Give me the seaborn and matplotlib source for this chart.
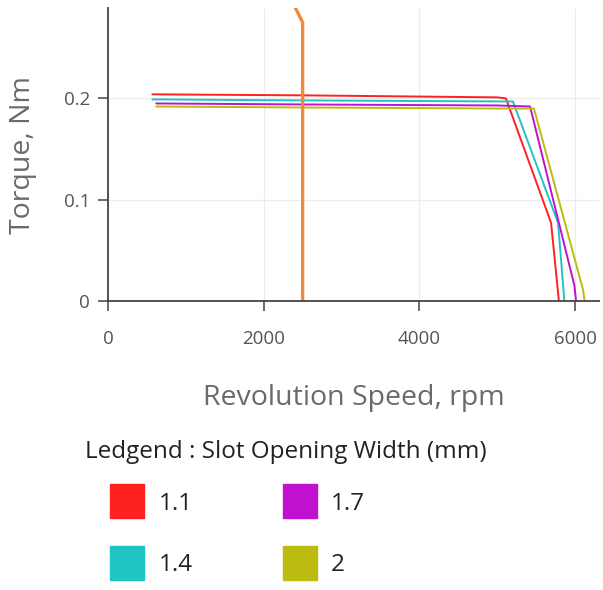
import matplotlib
matplotlib.use("Agg")
import matplotlib.pyplot as plt
import seaborn as sns
import pandas as pd
from matplotlib.lines import Line2D

# ---- data ----
widths = ["1.1", "1.4", "1.7", "2"]
colors = ["#ff2020", "#20c4c4", "#c010d0", "#bcbc10"]

speed_11 = [570, 2500, 5000, 5110, 5690, 5790]
torque_11 = [0.204, 0.203, 0.201, 0.200, 0.077, 0.0]
speed_14 = [570, 2500, 5000, 5200, 5780, 5860]
torque_14 = [0.199, 0.198, 0.197, 0.197, 0.077, 0.0]
speed_17 = [620, 2500, 5000, 5420, 5990, 6010]
torque_17 = [0.195, 0.194, 0.193, 0.192, 0.015, 0.0]
speed_20 = [620, 2500, 5000, 5470, 6100, 6120]
torque_20 = [0.192, 0.191, 0.190, 0.190, 0.011, 0.0]

load_speed = [2500, 2500, 2390]
load_torque = [0.0, 0.275, 0.292]

x_ticks = [0, 2000, 4000, 6000]
y_ticks = [0, 0.1, 0.2]
y_tick_labels = ["0", "0.1", "0.2"]

rows = []
for w, sp, tq in zip(widths, [speed_11, speed_14, speed_17, speed_20],
                     [torque_11, torque_14, torque_17, torque_20]):
    for s, t in zip(sp, tq):
        rows.append({"width": w, "speed": s, "torque": t})
df = pd.DataFrame(rows)
load_df = pd.DataFrame({"speed": load_speed, "torque": load_torque})

sns.set_theme(style="white")
plt.rcParams["font.family"] = ["Open Sans", "DejaVu Sans"]

fig = plt.figure(figsize=(6.03, 5.90), dpi=100)
ax = fig.add_axes([0.179, 0.49, 0.815, 0.496])

sns.lineplot(data=df, x="speed", y="torque", hue="width", hue_order=widths,
             palette=dict(zip(widths, colors)), sort=False, estimator=None,
             units="width", linewidth=1.4, ax=ax, legend=False)
sns.lineplot(data=load_df, x="speed", y="torque", sort=False, estimator=None,
             color="#f5893a", linewidth=2.4, ax=ax)

ax.set_xlim(0, 6310)
ax.set_ylim(0, 0.289)
ax.set_xticks(x_ticks)
ax.set_yticks(y_ticks)
ax.set_yticklabels(y_tick_labels)
ax.grid(True, color="#ececec", linewidth=0.9)
ax.set_axisbelow(True)
for s in ["top", "right"]:
    ax.spines[s].set_visible(False)
for s in ["left", "bottom"]:
    ax.spines[s].set_color("#444444")
    ax.spines[s].set_linewidth(1.3)
ax.tick_params(axis="both", direction="out", length=7, width=1.1,
               color="#444444", labelcolor="#555555", labelsize=13.5,
               left=True, bottom=True, pad=6)
ax.tick_params(axis="x", pad=14)
ax.set_xlabel("Revolution Speed, rpm", color="#6a6a6a", fontsize=20.5, labelpad=26)
ax.set_ylabel("Torque, Nm", color="#6a6a6a", fontsize=20.5, labelpad=19)

fig.text(85 / 603, 1 - 452 / 590, "Ledgend : Slot Opening Width (mm)",
         fontsize=17.5, color="#222222", ha="left", va="center")

handles = [Line2D([], [], linestyle="none", marker="s", markersize=25,
                  markerfacecolor=c, markeredgecolor=c) for c in colors]
leg = fig.legend(handles, widths, loc="center left",
                 bbox_to_anchor=(90.5 / 603, 1 - 534.5 / 590),
                 ncol=2, frameon=False, fontsize=17.5, borderpad=0,
                 handlelength=2.0, handletextpad=0.3,
                 columnspacing=3.4, labelspacing=1.54)
for t in leg.get_texts():
    t.set_color("#222222")

fig.savefig("out.png", dpi=100)
